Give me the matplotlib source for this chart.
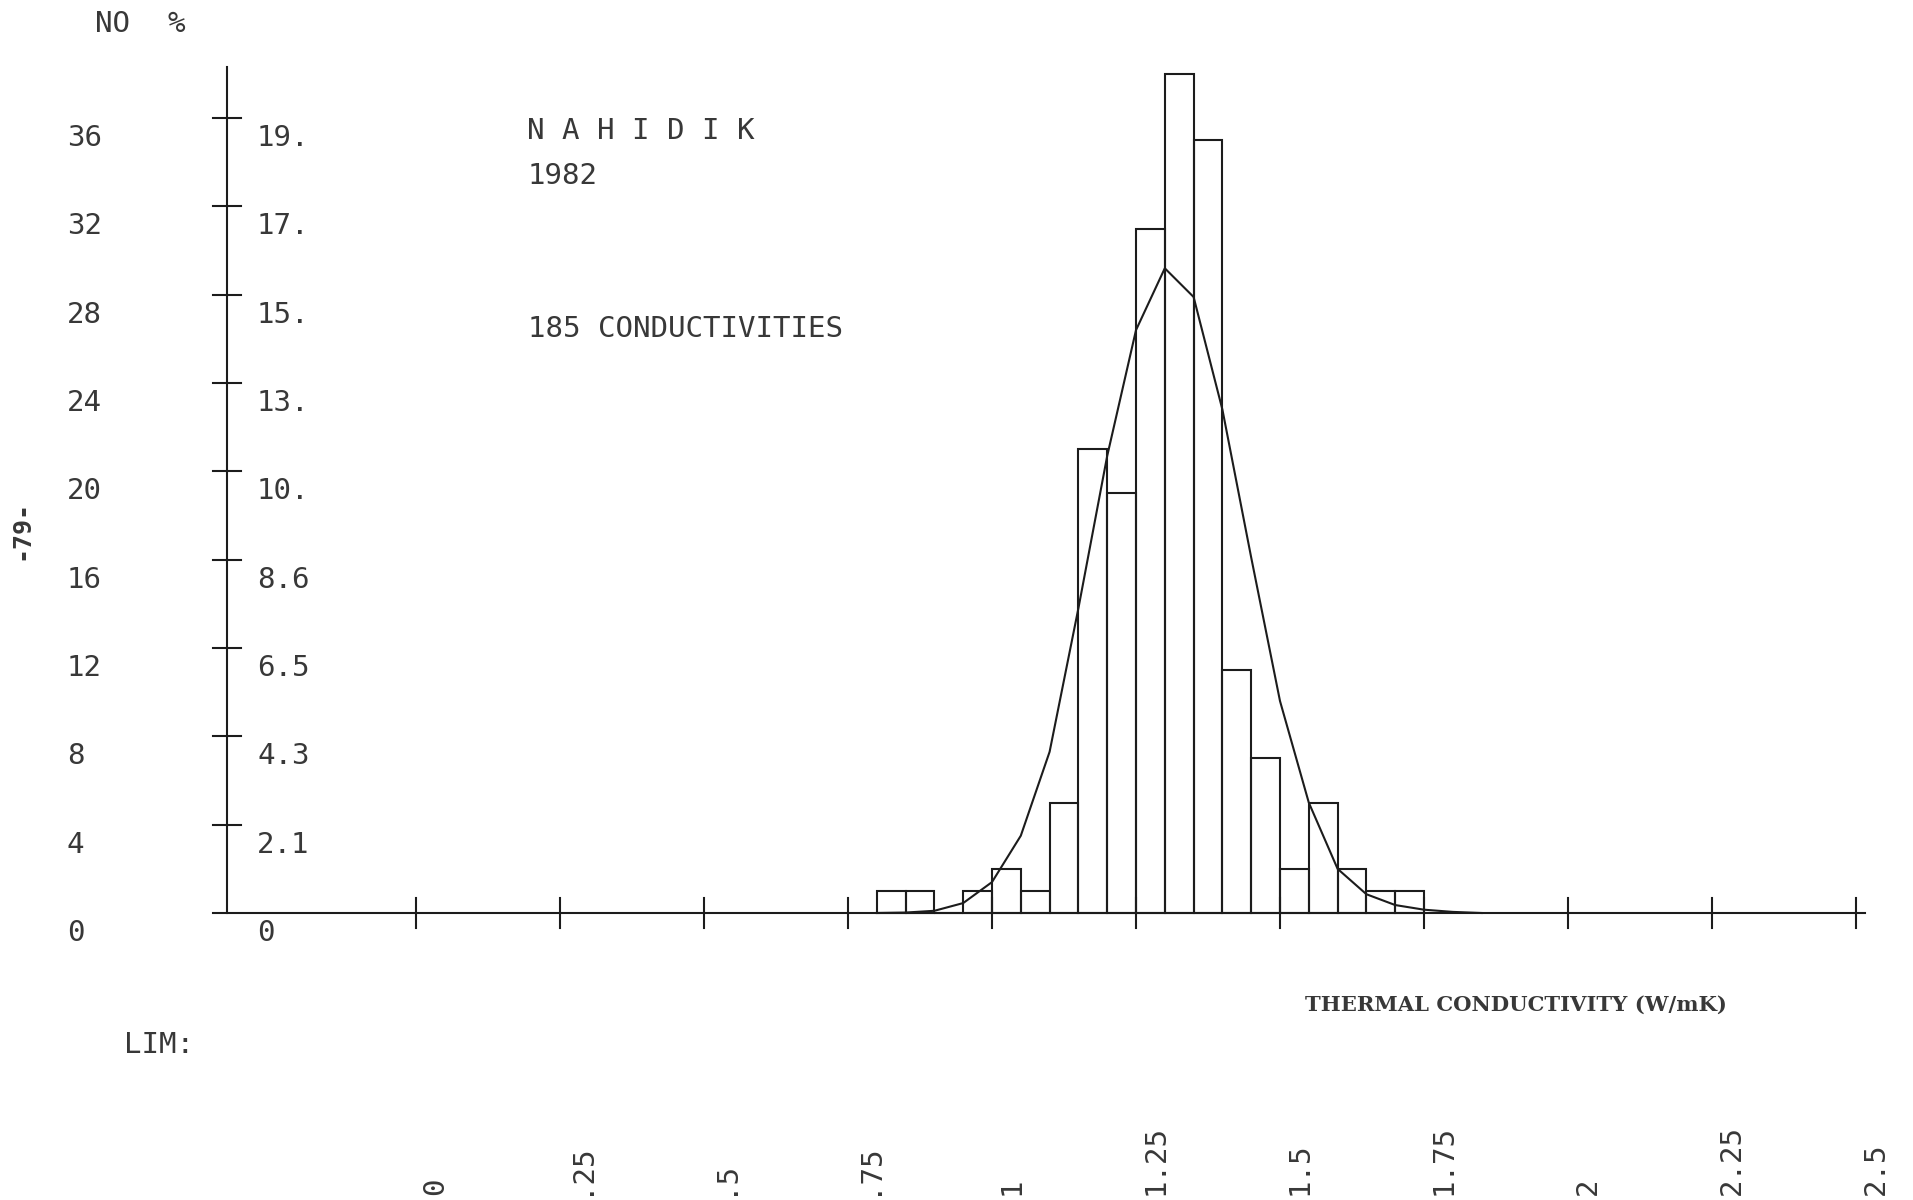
import matplotlib
matplotlib.use("Agg")
import matplotlib.pyplot as plt

# histogram of thermal conductivity, 0.05 W/mK bins
bin_lo = [0.80, 0.85, 0.90, 0.95, 1.00, 1.05, 1.10, 1.15, 1.20, 1.25,
          1.30, 1.35, 1.40, 1.45, 1.50, 1.55, 1.60, 1.65, 1.70]
counts = [1, 1, 0, 1, 2, 1, 5, 21, 19, 31, 38, 35, 11, 7, 2, 5, 2, 1, 1]
bin_width = 0.05

# fitted frequency curve (counts per bin)
curve_x = [0.80, 0.85, 0.90, 0.95, 1.00, 1.05, 1.10, 1.15, 1.20, 1.25, 1.30,
           1.35, 1.40, 1.45, 1.50, 1.55, 1.60, 1.65, 1.70, 1.75, 1.80, 1.85]
curve_y = [0.0, 0.02, 0.1, 0.45, 1.4, 3.5, 7.3, 13.8, 20.7, 26.4, 29.2,
           27.9, 22.8, 16.1, 9.6, 5.0, 2.0, 0.85, 0.36, 0.15, 0.05, 0.0]

# axis ticks and labels
count_ticks = [0, 4, 8, 12, 16, 20, 24, 28, 32, 36]
pct_labels = ["0", "2.1", "4.3", "6.5", "8.6", "10.", "13.", "15.", "17.", "19."]
x_ticks = [0, 0.25, 0.5, 0.75, 1, 1.25, 1.5, 1.75, 2, 2.25, 2.5]
x_labels = ["0", ".25", ".5", ".75", "1", "1.25", "1.5", "1.75", "2", "2.25", "2.5"]

site = "N A H I D I K"
year = "1982"
n_label = "185 CONDUCTIVITIES"

W, H = 1913, 1200
LINE = "#1c1c1c"
TXT = "#383838"
MONO = "DejaVu Sans Mono"
FS = 21

fig = plt.figure(figsize=(W / 100, H / 100), dpi=100)
ax = fig.add_axes([0, 0, 1, 1])
ax.set_xlim(-416 / 576, (W - 416) / 576)
ax.set_ylim((913 - H) / 22.08, 913 / 22.08)
ax.axis("off")

lw = 1.5
y_axis_x = -0.328
tick_dx = 0.025
tick_dy = 0.66

# histogram bars (outlines only)
ax.bar(bin_lo, counts, width=bin_width, align="edge", fill=False,
       edgecolor=LINE, linewidth=lw, zorder=2)
ax.plot(curve_x, curve_y, color=LINE, linewidth=lw, zorder=3)

# axes drawn plotter-style
ax.plot([y_axis_x, y_axis_x], [0, 38.3], color=LINE, linewidth=lw)
ax.plot([y_axis_x - tick_dx, 2.516], [0, 0], color=LINE, linewidth=lw)
for t in count_ticks[1:]:
    ax.plot([y_axis_x - tick_dx, y_axis_x + tick_dx], [t, t], color=LINE, linewidth=lw)
for t in x_ticks:
    ax.plot([t, t], [-tick_dy, tick_dy], color=LINE, linewidth=lw)

# count and percent labels, printed just under each tick
for t, p in zip(count_ticks, pct_labels):
    ax.text(-0.606, t - 0.9, str(t), fontsize=FS, family=MONO, color=TXT,
            ha="left", va="center")
    ax.text(-0.276, t - 0.9, p, fontsize=FS, family=MONO, color=TXT,
            ha="left", va="center")

# rotated limit labels along the bottom
for t, lab in zip(x_ticks, x_labels):
    ax.text(t + 0.034, -12.75, lab, fontsize=FS, family=MONO, color=TXT,
            rotation=90, ha="center", va="bottom")

def ftext(px, py, s, **kw):
    fig.text(px / W, 1 - py / H, s, color=TXT, va="center", ha="left", **kw)

ftext(95, 24, "NO", fontsize=FS, family=MONO)
ftext(167, 24, "%", fontsize=FS, family=MONO)
ftext(527, 131, site, fontsize=FS, family=MONO)
ftext(528, 176, year, fontsize=FS, family=MONO)
ftext(528, 329, n_label, fontsize=FS, family=MONO)
ftext(124, 1045, "LIM:", fontsize=FS, family=MONO)
ftext(1305, 1005, "THERMAL CONDUCTIVITY (W/mK)", fontsize=15.2, family="DejaVu Serif",
      fontweight="bold")
fig.text(21 / W, 1 - 530 / H, "-79-", fontsize=18, family=MONO, color=TXT,
         fontweight="bold", rotation=90, ha="center", va="center")

fig.savefig("out.png", dpi=100, facecolor="white")
